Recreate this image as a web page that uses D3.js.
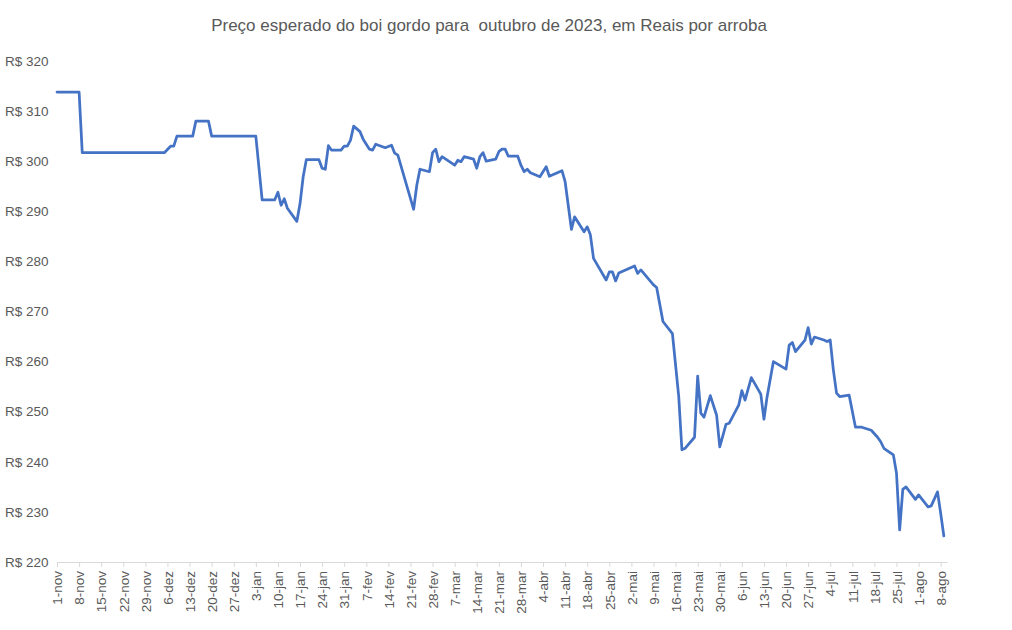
<!DOCTYPE html>
<html>
<head>
<meta charset="utf-8">
<script src="https://cdn.jsdelivr.net/npm/d3@7"></script>
<style>
  body { margin: 0; background: #fff; }
  svg { font-family: "Liberation Sans", Arial, sans-serif; }
</style>
</head>
<body>
<svg id="chart" width="1012" height="630"></svg>
<script>
// dates of the series (daily quotes, only the turning points)
var dates = [
  "2022-11-01","2022-11-08","2022-11-09","2022-12-05","2022-12-07","2022-12-08","2022-12-09","2022-12-14",
  "2022-12-15","2022-12-19","2022-12-20","2023-01-03","2023-01-05","2023-01-09","2023-01-10","2023-01-11",
  "2023-01-12","2023-01-13","2023-01-16","2023-01-17","2023-01-18","2023-01-19","2023-01-23","2023-01-24",
  "2023-01-25","2023-01-26","2023-01-27","2023-01-30","2023-01-31","2023-02-01","2023-02-02","2023-02-03",
  "2023-02-05","2023-02-06","2023-02-08","2023-02-09","2023-02-10","2023-02-13","2023-02-15","2023-02-16",
  "2023-02-17","2023-02-22","2023-02-23","2023-02-24","2023-02-27","2023-02-28","2023-03-01","2023-03-02",
  "2023-03-03","2023-03-07","2023-03-08","2023-03-09","2023-03-10","2023-03-13","2023-03-14","2023-03-15",
  "2023-03-16","2023-03-17","2023-03-20","2023-03-21","2023-03-22","2023-03-23","2023-03-24","2023-03-27",
  "2023-03-28","2023-03-29","2023-03-30","2023-03-31","2023-04-03","2023-04-05","2023-04-06","2023-04-10",
  "2023-04-11","2023-04-13","2023-04-14","2023-04-17","2023-04-18","2023-04-19","2023-04-20","2023-04-24",
  "2023-04-25","2023-04-26","2023-04-27","2023-04-28","2023-05-03","2023-05-04","2023-05-05","2023-05-09",
  "2023-05-10","2023-05-12","2023-05-15","2023-05-17","2023-05-18","2023-05-19","2023-05-22","2023-05-23",
  "2023-05-24","2023-05-25","2023-05-27","2023-05-29","2023-05-30","2023-06-01","2023-06-02","2023-06-05",
  "2023-06-06","2023-06-07","2023-06-09","2023-06-12","2023-06-13","2023-06-14","2023-06-16","2023-06-20",
  "2023-06-21","2023-06-22","2023-06-23","2023-06-26","2023-06-27","2023-06-28","2023-06-29","2023-07-02",
  "2023-07-03","2023-07-04","2023-07-05","2023-07-06","2023-07-07","2023-07-10","2023-07-12","2023-07-14",
  "2023-07-17","2023-07-19","2023-07-20","2023-07-21","2023-07-24","2023-07-25","2023-07-26","2023-07-27",
  "2023-07-28","2023-07-31","2023-08-01","2023-08-04","2023-08-05","2023-08-07","2023-08-08","2023-08-09"
];

// R$ por arroba
var prices = [
  313.8,313.8,301.7,301.7,303.0,303.0,305.0,305.0,
  308.0,308.0,305.0,305.0,292.3,292.3,293.8,291.2,
  292.5,290.6,288.0,291.5,296.9,300.3,300.3,298.6,
  298.4,303.1,302.2,302.2,303.0,303.0,304.2,307.0,
  305.9,304.4,302.4,302.2,303.4,302.7,303.2,301.6,
  301.2,290.4,295.2,298.4,297.9,301.7,302.4,299.9,
  300.9,299.2,300.2,299.9,300.9,300.4,298.6,300.9,
  301.7,300.0,300.4,301.9,302.4,302.4,301.0,301.0,
  299.2,297.9,298.4,297.7,296.9,298.9,297.0,298.1,
  295.9,286.4,288.9,285.9,286.9,285.3,280.6,276.3,
  277.9,277.9,276.1,277.7,279.1,277.6,278.3,275.3,
  274.8,268.0,265.6,253.0,242.4,242.7,244.9,257.1,
  249.7,248.9,253.2,249.3,243.0,247.5,247.7,251.3,
  254.2,252.3,256.8,253.5,248.5,253.0,260.0,258.5,
  263.3,263.8,262.0,264.3,266.8,263.5,264.9,264.3,
  264.0,264.3,258.3,253.7,253.0,253.3,246.9,246.9,
  246.3,244.9,244.0,242.7,241.4,237.7,226.4,234.5,
  235.0,232.5,233.4,231.0,231.2,234.0,229.7,225.2
];

var yTicks = [220, 230, 240, 250, 260, 270, 280, 290, 300, 310, 320];
var monthNames = ["jan","fev","mar","abr","mai","jun","jul","ago","set","out","nov","dez"];
var titleText = "Preço esperado do boi gordo para  outubro de 2023, em Reais por arroba";

var parse = d3.timeParse("%Y-%m-%d");
var data = dates.map(function(d, i) { return { date: parse(d), value: prices[i] }; });

var svg = d3.select("#chart");
var plotLeft = 57, plotRight = 947, plotTop = 61, plotBottom = 562;

var x = d3.scaleTime()
  .domain([parse("2022-11-01"), parse("2023-08-10")])
  .range([plotLeft, plotRight]);

var y = d3.scaleLinear()
  .domain([220, 320])
  .range([plotBottom, plotTop]);

// title
svg.append("text")
  .attr("x", 489)
  .attr("y", 31)
  .attr("text-anchor", "middle")
  .style("white-space", "pre")
  .attr("font-size", 17)
  .attr("fill", "#595959")
  .text(titleText);

// y labels (no gridlines in the original)
svg.selectAll(".ylab")
  .data(yTicks)
  .enter()
  .append("text")
  .attr("class", "ylab")
  .attr("x", 5)
  .attr("y", function(d) { return y(d); })
  .attr("dy", "0.35em")
  .attr("font-size", 13.5)
  .attr("fill", "#595959")
  .text(function(d) { return "R$ " + d; });

// weekly x ticks
var tickDates = d3.timeDay.range(parse("2022-11-01"), parse("2023-08-09"), 7);

var xAxis = d3.axisBottom(x)
  .tickValues(tickDates)
  .tickSize(5)
  .tickSizeOuter(0)
  .tickFormat(function(d) { return d.getDate() + "-" + monthNames[d.getMonth()]; });

var gx = svg.append("g")
  .attr("transform", "translate(0," + plotBottom + ")")
  .call(xAxis);

gx.select(".domain").attr("stroke", "#d9d9d9");
gx.selectAll(".tick line").attr("stroke", "#d9d9d9");
gx.selectAll(".tick text")
  .attr("font-family", "Liberation Sans, Arial, sans-serif")
  .attr("font-size", 13.5)
  .attr("fill", "#595959")
  .attr("text-anchor", "end")
  .attr("transform", "rotate(-90)")
  .attr("x", -9)
  .attr("y", 0)
  .attr("dy", "0.35em");

// the series
var line = d3.line()
  .x(function(d) { return x(d.date); })
  .y(function(d) { return y(d.value); });

svg.append("path")
  .datum(data)
  .attr("d", line)
  .attr("fill", "none")
  .attr("stroke", "#4472c4")
  .attr("stroke-width", 2.75)
  .attr("stroke-linejoin", "round")
  .attr("stroke-linecap", "round");
</script>
</body>
</html>
